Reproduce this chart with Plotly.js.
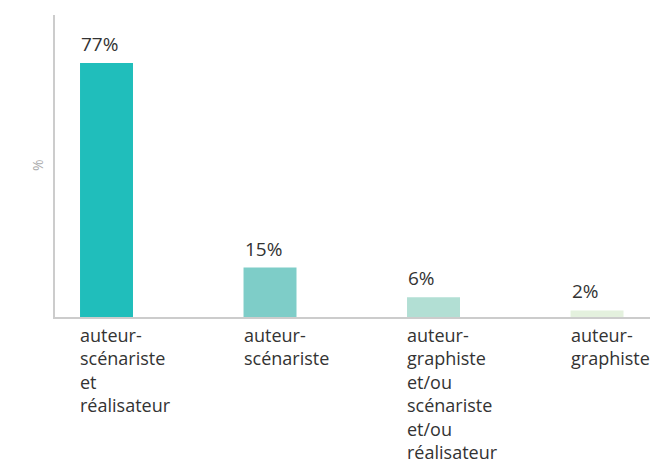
<!DOCTYPE html>
<html>
<head>
<meta charset="utf-8">
<script src="https://cdn.plot.ly/plotly-3.0.1.min.js"></script>
<style>html,body{margin:0;padding:0;background:#fff;}#chart{width:665px;height:461px;}</style>
</head>
<body>
<div id="chart"></div>
<script>
const categories = [
  ["auteur-", "scénariste", "et", "réalisateur"],
  ["auteur-", "scénariste"],
  ["auteur-", "graphiste", "et/ou", "scénariste", "et/ou", "réalisateur"],
  ["auteur-", "graphiste"]
];
const values = [77, 15, 6, 2];
const valueLabels = ["77%", "15%", "6%", "2%"];
const colors = ["#20BEBB", "#7ECDC8", "#B2DFD4", "#E4F1DE"];

const barWidth = 0.324;
const xs = values.map((v, i) => i);

const annotations = [];
values.forEach((v, i) => {
  annotations.push({
    x: i - barWidth / 2, y: v, xref: 'x', yref: 'y',
    xanchor: 'left', yanchor: 'bottom', yshift: 4, xshift: -1,
    text: valueLabels[i], showarrow: false,
    font: {family: 'Open Sans', size: 19, color: '#333333'}
  });
  annotations.push({
    x: i - barWidth / 2, y: 0, xref: 'x', yref: 'y',
    xanchor: 'left', yanchor: 'top', yshift: -4, xshift: -2,
    text: categories[i].join('<br>'), showarrow: false, align: 'left',
    font: {family: 'Open Sans', size: 18, color: '#333333'}
  });
});
annotations.push({
  xref: 'paper', yref: 'paper', x: 0, y: 0.503, xshift: -18,
  xanchor: 'center', yanchor: 'middle', textangle: -90,
  text: '%', showarrow: false,
  font: {family: 'Open Sans', size: 14, color: '#aaaaaa'}
});

const data = [{
  type: 'bar', x: xs, y: values, width: barWidth,
  marker: {color: colors}, hoverinfo: 'none'
}];

const layout = {
  width: 665, height: 461,
  margin: {l: 55, r: 15, t: 15, b: 144},
  paper_bgcolor: '#fff', plot_bgcolor: '#fff',
  showlegend: false,
  xaxis: {range: [-0.315, 3.324], showgrid: false, zeroline: false, showticklabels: false,
          ticks: '', showline: true, linecolor: '#cccccc', linewidth: 2},
  yaxis: {range: [0, 91.55], showgrid: false, zeroline: false, showticklabels: false,
          ticks: '', showline: true, linecolor: '#cccccc', linewidth: 2},
  annotations: annotations
};

Plotly.newPlot('chart', data, layout, {displayModeBar: false, staticPlot: true});
</script>
</body>
</html>
